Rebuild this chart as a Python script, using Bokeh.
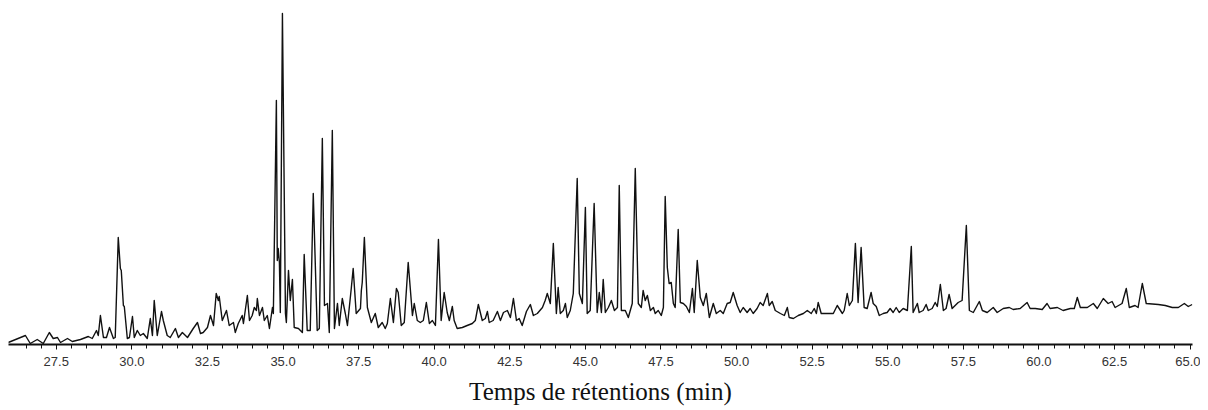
from bokeh.plotting import figure
from bokeh.models import Range1d, FixedTicker, PrintfTickFormatter
from bokeh.embed import file_html
from bokeh.resources import INLINE

# Retention time (min) and detector response (a.u.)
time_a = [25.91, 26.48, 26.64, 26.87, 27.07, 27.27, 27.40, 27.54, 27.64, 27.87,
          28.03, 28.30, 28.56, 28.69, 28.83, 28.89, 28.96, 29.06, 29.16, 29.26,
          29.39, 29.45, 29.55, 29.62, 29.65, 29.72, 29.75, 29.85, 29.92, 30.02,
          30.08, 30.18, 30.28, 30.38, 30.51, 30.61, 30.68, 30.74, 30.84, 30.98,
          31.04, 31.17, 31.27]
resp_a = [2, 9, 1, 5, 1, 12, 6, 7, 2, 6,
          3, 5, 8, 6, 14, 9, 29, 7, 7, 17,
          6, 7, 107, 76, 74, 39, 38, 6, 7, 28,
          7, 14, 9, 11, 6, 26, 9, 44, 9, 33,
          24, 9, 7]

time_b = [31.44, 31.54, 31.67, 31.84, 32.03, 32.17, 32.27, 32.36, 32.50, 32.60,
          32.70, 32.79, 32.86, 32.89, 32.99, 33.13, 33.22, 33.36, 33.42, 33.52,
          33.65, 33.69, 33.82, 33.89, 33.98, 34.05, 34.12, 34.15, 34.22, 34.32,
          34.38, 34.48, 34.55, 34.65, 34.68, 34.78, 34.81, 34.84, 34.88, 34.91,
          34.98, 35.08, 35.11, 35.18, 35.24, 35.31, 35.37, 35.51, 35.64, 35.70,
          35.80, 35.90, 36.00, 36.13, 36.20, 36.30, 36.37, 36.47, 36.53, 36.63,
          36.70, 36.80, 36.86, 36.96, 37.06]
resp_b = [16, 7, 12, 7, 16, 22, 11, 12, 17, 29,
          19, 51, 44, 48, 24, 34, 19, 22, 12, 21,
          29, 21, 49, 24, 29, 37, 34, 46, 29, 37,
          24, 29, 16, 37, 31, 244, 84, 96, 82, 32,
          331, 31, 22, 74, 44, 65, 17, 16, 12, 90,
          14, 14, 151, 14, 16, 206, 39, 41, 12, 214,
          16, 41, 19, 46, 31]

time_c = [37.13, 37.26, 37.32, 37.42, 37.56, 37.59, 37.62, 37.69, 37.79, 37.92,
          38.05, 38.15, 38.28, 38.38, 38.45, 38.55, 38.65, 38.75, 38.81, 38.91,
          39.01, 39.14, 39.28, 39.34, 39.44, 39.54, 39.64, 39.74, 39.84, 39.94,
          40.04, 40.14, 40.23, 40.33, 40.43, 40.50, 40.60, 40.66, 40.76, 40.93,
          41.09, 41.26, 41.36, 41.46, 41.59, 41.69, 41.76, 41.82, 41.95, 42.09,
          42.19, 42.29, 42.42, 42.52, 42.62, 42.72, 42.81, 42.91, 43.05, 43.18,
          43.28, 43.41, 43.58, 43.67, 43.74, 43.84, 43.94, 44.04, 44.10, 44.17,
          44.27, 44.34, 44.40, 44.50, 44.60, 44.73, 44.80, 44.90, 45.00, 45.06,
          45.16, 45.29]
resp_c = [19, 57, 76, 31, 36, 54, 62, 107, 37, 22,
          31, 17, 22, 16, 21, 46, 22, 56, 52, 19,
          22, 82, 29, 41, 24, 22, 24, 42, 21, 24,
          19, 105, 24, 52, 32, 24, 38, 24, 16, 17,
          19, 21, 24, 40, 24, 26, 33, 22, 24, 33,
          24, 32, 34, 27, 46, 24, 26, 19, 33, 40,
          29, 31, 37, 44, 51, 41, 101, 31, 57, 31,
          34, 41, 27, 34, 51, 166, 51, 41, 137, 31,
          34, 141]

time_d = [45.39, 45.46, 45.53, 45.59, 45.66, 45.76, 45.86, 45.96, 46.06, 46.12,
          46.19, 46.32, 46.42, 46.55, 46.65, 46.75, 46.85, 46.91, 46.98, 47.05,
          47.15, 47.25, 47.31, 47.41, 47.51, 47.58, 47.64, 47.71, 47.77, 47.84,
          47.91, 47.97, 48.07, 48.14, 48.24]
resp_d = [32, 52, 32, 65, 32, 37, 44, 34, 37, 159,
          34, 34, 27, 41, 176, 41, 37, 54, 44, 49,
          34, 37, 31, 34, 29, 37, 148, 77, 61, 62,
          41, 37, 115, 42, 41]

time_e = [48.34, 48.44, 48.54, 48.60, 48.70, 48.80, 48.90, 49.00, 49.10, 49.23,
          49.33, 49.46, 49.56, 49.69, 49.79, 49.89, 50.02, 50.12, 50.22, 50.35,
          50.45, 50.55, 50.68, 50.78, 50.88, 51.02, 51.08, 51.18, 51.28, 51.45,
          51.58, 51.68, 51.74, 51.88, 52.04, 52.21, 52.34, 52.47, 52.57, 52.64,
          52.70, 52.80, 52.93, 53.10, 53.20, 53.33, 53.50, 53.56, 53.66, 53.73,
          53.83, 53.93, 54.02, 54.12, 54.22, 54.32, 54.45, 54.52, 54.62, 54.72,
          54.85, 54.98, 55.08, 55.18, 55.28, 55.38, 55.51, 55.65, 55.78, 55.84,
          55.98, 56.04, 56.17, 56.27, 56.34, 56.47, 56.57, 56.64, 56.74, 56.84,
          56.93, 57.03, 57.13, 57.23, 57.33, 57.46, 57.60, 57.70, 57.83, 58.03,
          58.13, 58.29, 58.49, 58.62, 58.82, 59.02, 59.15, 59.38, 59.61, 59.71,
          59.88, 60.11, 60.27, 60.37, 60.61, 60.80, 61.04, 61.17, 61.27, 61.37,
          61.60, 61.80, 61.93, 62.13, 62.29, 62.42, 62.52, 62.75, 62.89, 62.99,
          63.18, 63.28, 63.42, 63.55, 63.95, 64.18, 64.41, 64.61, 64.81, 64.94,
          65.07]
resp_e = [38, 32, 56, 32, 84, 47, 39, 51, 27, 41,
          31, 34, 31, 41, 42, 52, 39, 32, 37, 32,
          36, 31, 36, 42, 39, 51, 39, 43, 34, 31,
          29, 37, 27, 26, 29, 31, 34, 31, 36, 31,
          42, 31, 31, 31, 31, 39, 31, 34, 51, 39,
          44, 101, 42, 97, 37, 36, 52, 41, 38, 29,
          31, 32, 36, 32, 37, 32, 36, 34, 98, 32,
          41, 32, 34, 40, 34, 36, 42, 38, 60, 34,
          36, 50, 36, 39, 42, 44, 119, 34, 32, 43,
          34, 32, 37, 32, 36, 37, 35, 36, 42, 36,
          36, 35, 41, 36, 37, 34, 36, 36, 47, 37,
          37, 41, 36, 46, 41, 43, 37, 41, 56, 37,
          39, 37, 61, 41, 40, 39, 37, 37, 41, 38,
          40]

major_ticks = [27.5, 30.0, 32.5, 35.0, 37.5, 40.0, 42.5, 45.0, 47.5, 50.0,
               52.5, 55.0, 57.5, 60.0, 62.5, 65.0]
x_label = "Temps de rétentions (min)"

time_min = time_a + time_b + time_c + time_d + time_e
response = resp_a + resp_b + resp_c + resp_d + resp_e
minor_ticks = [26.5 + 0.5 * i for i in range(78)]

p = figure(frame_width=1184, frame_height=336,
           x_range=Range1d(25.92, 65.08), y_range=Range1d(0, 336),
           y_axis_location=None, output_backend="svg", toolbar_location=None,
           min_border_left=8, min_border_right=8, min_border_top=8,
           min_border_bottom=0)
p.line(time_min, response, line_color="#111111", line_width=1.4,
       line_join="round")

p.xgrid.visible = False
p.ygrid.visible = False
p.outline_line_color = None
p.background_fill_color = "white"
p.border_fill_color = "white"

xa = p.xaxis[0]
xa.ticker = FixedTicker(ticks=major_ticks, minor_ticks=minor_ticks)
xa.formatter = PrintfTickFormatter(format="%.1f")
xa.axis_line_width = 2
xa.axis_line_color = "#111111"
xa.major_tick_in = 0
xa.major_tick_out = 5
xa.minor_tick_in = 0
xa.minor_tick_out = 4
xa.major_tick_line_color = "#111111"
xa.minor_tick_line_color = "#111111"
xa.major_label_text_font = "Liberation Sans"
xa.major_label_text_font_size = "13px"
xa.major_label_text_color = "#333333"
xa.major_label_standoff = 7
xa.axis_label = x_label
xa.axis_label_text_font = "Liberation Serif"
xa.axis_label_text_font_style = "normal"
xa.axis_label_text_font_size = "25px"
xa.axis_label_text_color = "#111111"
xa.axis_label_standoff = 9

open("out.html", "w").write(file_html(p, INLINE))
